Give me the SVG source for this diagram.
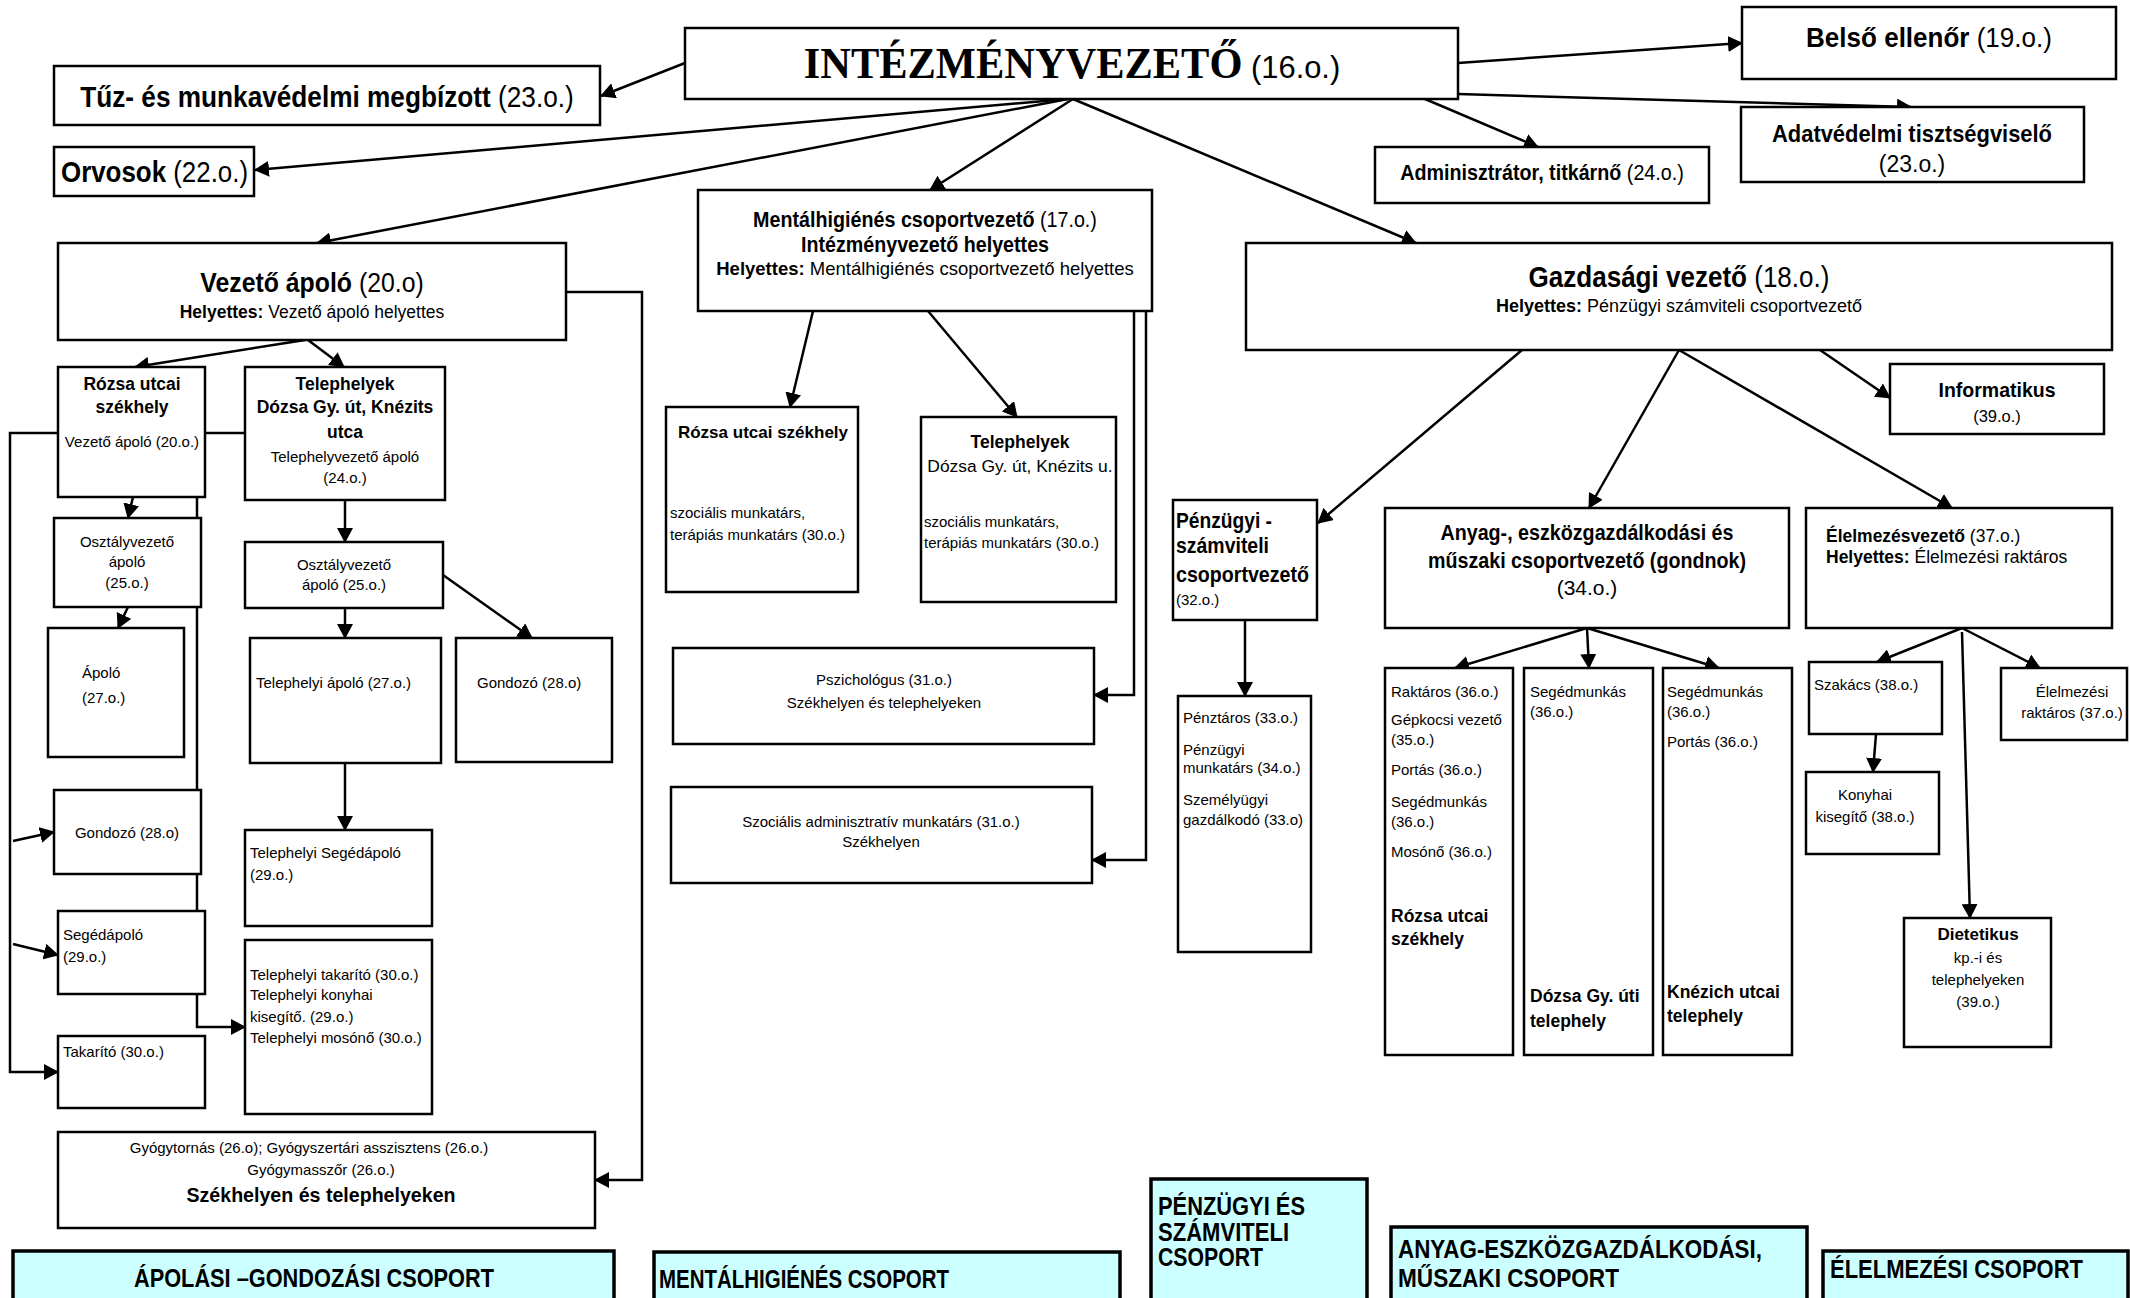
<svg xmlns="http://www.w3.org/2000/svg" width="2130" height="1298" viewBox="0 0 2130 1298">
<defs>
<marker id="ah" markerUnits="userSpaceOnUse" markerWidth="16" markerHeight="16" refX="14" refY="8" orient="auto"><path d="M0,0 L15,8 L0,16 z" fill="#000"/></marker>
<style>
.box{fill:#fff;stroke:#000;stroke-width:2.5}
.cy{fill:#ccffff;stroke:#000;stroke-width:3.5}
.ln{fill:none;stroke:#000;stroke-width:2.5}
.ar{marker-end:url(#ah)}
text{font-family:"Liberation Sans",Arial,sans-serif;fill:#000}
.b{font-weight:bold}
.s{font-size:15px}
.sb{font-size:17.5px;font-weight:bold}
.m{text-anchor:middle}
.serif{font-family:"Liberation Serif","Times New Roman",serif;font-weight:bold}
</style>
</defs>
<rect width="2130" height="1298" fill="#fff"/>

<g id="connectors">
<path class="ln ar" d="M685,63 L601,96"/>
<path class="ln ar" d="M1068,99 L255,170"/>
<path class="ln ar" d="M1068,99 L317,243"/>
<path class="ln ar" d="M1073,99 L930,190"/>
<path class="ln ar" d="M1073,99 L1416,243"/>
<path class="ln ar" d="M1425,99 L1538,147"/>
<path class="ln ar" d="M1458,63 L1742,43"/>
<path class="ln ar" d="M1458,94 L1911,107"/>
<path class="ln ar" d="M305,340 L135,367"/>
<path class="ln ar" d="M308,340 L344,367"/>
<path class="ln ar" d="M566,292 L642,292 L642,1180 L595,1180"/>
<path class="ln ar" d="M245,433 L10,433 L10,1072 L58,1072"/>
<path class="ln ar" d="M13,841 L54,832"/>
<path class="ln ar" d="M13,944 L58,955"/>
<path class="ln ar" d="M133,497 L128,518"/>
<path class="ln ar" d="M128,607 L118,628"/>
<path class="ln ar" d="M197,497 L197,1027 L245,1027"/>
<path class="ln ar" d="M345,500 L345,542"/>
<path class="ln ar" d="M345,608 L345,638"/>
<path class="ln ar" d="M443,575 L532,638"/>
<path class="ln ar" d="M345,763 L345,830"/>
<path class="ln ar" d="M813,311 L790,407"/>
<path class="ln ar" d="M928,311 L1017,417"/>
<path class="ln ar" d="M1134,311 L1134,695 L1094,695"/>
<path class="ln ar" d="M1146,311 L1146,860 L1092,860"/>
<path class="ln ar" d="M1522,350 L1318,523"/>
<path class="ln ar" d="M1679,350 L1589,508"/>
<path class="ln ar" d="M1679,350 L1952,508"/>
<path class="ln ar" d="M1820,350 L1890,398"/>
<path class="ln ar" d="M1245,620 L1245,696"/>
<path class="ln ar" d="M1587,628 L1455,668"/>
<path class="ln ar" d="M1587,628 L1589,668"/>
<path class="ln ar" d="M1587,628 L1719,668"/>
<path class="ln ar" d="M1962,628 L1877,662"/>
<path class="ln ar" d="M1962,628 L2040,668"/>
<path class="ln ar" d="M1962,632 L1970,918"/>
<path class="ln ar" d="M1876,734 L1873,772"/>
</g>

<g id="n-intezmeny"><rect class="box" x="685" y="28" width="773" height="71"/>
<text transform="translate(1072,78) scale(0.965,1)" class="m"><tspan class="serif" font-size="44">INTÉZMÉNYVEZETŐ</tspan><tspan font-size="32"> (16.o.)</tspan></text></g>

<g id="n-tuz"><rect class="box" x="54" y="66" width="546" height="59"/>
<text transform="translate(327,107) scale(0.904,1)" class="m" font-size="29"><tspan class="b">Tűz- és munkavédelmi megbízott</tspan> (23.o.)</text></g>

<g id="n-orvosok"><rect class="box" x="54" y="147" width="200" height="49"/>
<text transform="translate(61,182) scale(0.893,1)" font-size="29"><tspan class="b">Orvosok</tspan> (22.o.)</text></g>

<g id="n-belso"><rect class="box" x="1742" y="7" width="374" height="72"/>
<text transform="translate(1929,47) scale(0.93,1)" class="m" font-size="28"><tspan class="b">Belső ellenőr</tspan> (19.o.)</text></g>

<g id="n-adatvedelmi"><rect class="box" x="1741" y="107" width="343" height="75"/>
<text x="1912" y="142" class="m b" font-size="24" textLength="280" lengthAdjust="spacingAndGlyphs">Adatvédelmi tisztségviselő</text>
<text x="1912" y="172" class="m" font-size="23">(23.o.)</text></g>

<g id="n-admin"><rect class="box" x="1375" y="147" width="334" height="56"/>
<text transform="translate(1542,180) scale(0.896,1)" class="m" font-size="22"><tspan class="b">Adminisztrátor, titkárnő</tspan> (24.o.)</text></g>

<g id="n-gazdasagi"><rect class="box" x="1246" y="243" width="866" height="107"/>
<text transform="translate(1679,287) scale(0.898,1)" class="m" font-size="29"><tspan class="b">Gazdasági vezető</tspan> (18.o.)</text>
<text x="1679" y="312" class="m" font-size="18"><tspan class="b">Helyettes:</tspan> Pénzügyi számviteli csoportvezető</text></g>

<g id="n-mental"><rect class="box" x="698" y="190" width="454" height="121"/>
<text transform="translate(925,227) scale(0.896,1)" class="m" font-size="22"><tspan class="b">Mentálhigiénés csoportvezető</tspan> (17.o.)</text>
<text x="925" y="252" class="m b" font-size="22" textLength="248" lengthAdjust="spacingAndGlyphs">Intézményvezető helyettes</text>
<text x="925" y="275" class="m" font-size="18.5"><tspan class="b">Helyettes:</tspan> Mentálhigiénés csoportvezető helyettes</text></g>

<g id="n-vezeto"><rect class="box" x="58" y="243" width="508" height="97"/>
<text transform="translate(312,292) scale(0.887,1)" class="m" font-size="28"><tspan class="b">Vezető ápoló</tspan> (20.o)</text>
<text x="312" y="318" class="m" font-size="17.5"><tspan class="b">Helyettes:</tspan> Vezető ápoló helyettes</text></g>

<g id="n-rozsa1"><rect class="box" x="58" y="367" width="147" height="130"/>
<text x="132" y="390" class="m sb">Rózsa utcai</text>
<text x="132" y="413" class="m sb">székhely</text>
<text x="132" y="447" class="m s">Vezető ápoló (20.o.)</text></g>

<g id="n-teleph1"><rect class="box" x="245" y="367" width="200" height="133"/>
<text x="345" y="390" class="m sb">Telephelyek</text>
<text x="345" y="413" class="m sb">Dózsa Gy. út, Knézits</text>
<text x="345" y="438" class="m sb">utca</text>
<text x="345" y="462" class="m s">Telephelyvezető ápoló</text>
<text x="345" y="483" class="m s">(24.o.)</text></g>

<g id="n-osztaly1"><rect class="box" x="54" y="518" width="147" height="89"/>
<text x="127" y="547" class="m s">Osztályvezető</text>
<text x="127" y="567" class="m s">ápoló</text>
<text x="127" y="588" class="m s">(25.o.)</text></g>

<g id="n-apolo"><rect class="box" x="48" y="628" width="136" height="129"/>
<text x="82" y="678" class="s">Ápoló</text>
<text x="82" y="703" class="s">(27.o.)</text></g>

<g id="n-gondozo1"><rect class="box" x="54" y="790" width="147" height="84"/>
<text x="127" y="838" class="m s">Gondozó (28.o)</text></g>

<g id="n-segedapolo"><rect class="box" x="58" y="911" width="147" height="83"/>
<text x="63" y="940" class="s">Segédápoló</text>
<text x="63" y="962" class="s">(29.o.)</text></g>

<g id="n-takarito"><rect class="box" x="58" y="1036" width="147" height="72"/>
<text x="63" y="1057" class="s">Takarító (30.o.)</text></g>

<g id="n-osztaly2"><rect class="box" x="245" y="542" width="198" height="66"/>
<text x="344" y="570" class="m s">Osztályvezető</text>
<text x="344" y="590" class="m s">ápoló (25.o.)</text></g>

<g id="n-teleph-apolo"><rect class="box" x="250" y="638" width="191" height="125"/>
<text x="256" y="688" class="s">Telephelyi ápoló (27.o.)</text></g>

<g id="n-gondozo2"><rect class="box" x="456" y="638" width="156" height="124"/>
<text x="477" y="688" class="s">Gondozó (28.o)</text></g>

<g id="n-teleph-seged"><rect class="box" x="245" y="830" width="187" height="96"/>
<text x="250" y="858" class="s">Telephelyi Segédápoló</text>
<text x="250" y="880" class="s">(29.o.)</text></g>

<g id="n-teleph-takarito"><rect class="box" x="245" y="940" width="187" height="174"/>
<text x="250" y="980" class="s">Telephelyi takarító (30.o.)</text>
<text x="250" y="1000" class="s">Telephelyi konyhai</text>
<text x="250" y="1022" class="s">kisegítő. (29.o.)</text>
<text x="250" y="1043" class="s">Telephelyi mosónő (30.o.)</text></g>

<g id="n-gyogy"><rect class="box" x="58" y="1132" width="537" height="96"/>
<text x="309" y="1153" class="m s">Gyógytornás (26.o); Gyógyszertári asszisztens (26.o.)</text>
<text x="321" y="1175" class="m s">Gyógymasszőr (26.o.)</text>
<text x="321" y="1202" class="m b" font-size="21" textLength="269" lengthAdjust="spacingAndGlyphs">Székhelyen és telephelyeken</text></g>

<g id="n-rozsa2"><rect class="box" x="666" y="407" width="192" height="185"/>
<text x="763" y="438" class="m b" font-size="17">Rózsa utcai székhely</text>
<text x="670" y="518" class="s">szociális munkatárs,</text>
<text x="670" y="540" class="s">terápiás munkatárs (30.o.)</text></g>

<g id="n-teleph2"><rect class="box" x="921" y="417" width="195" height="185"/>
<text x="1020" y="448" class="m sb">Telephelyek</text>
<text x="1020" y="472" class="m" font-size="17.4">Dózsa Gy. út, Knézits u.</text>
<text x="924" y="527" class="s">szociális munkatárs,</text>
<text x="924" y="548" class="s">terápiás munkatárs (30.o.)</text></g>

<g id="n-pszich"><rect class="box" x="673" y="648" width="421" height="96"/>
<text x="884" y="685" class="m s">Pszichológus (31.o.)</text>
<text x="884" y="708" class="m s">Székhelyen és telephelyeken</text></g>

<g id="n-szocadm"><rect class="box" x="671" y="787" width="421" height="96"/>
<text x="881" y="827" class="m s">Szociális adminisztratív munkatárs (31.o.)</text>
<text x="881" y="847" class="m s">Székhelyen</text></g>

<g id="n-penzugyi"><rect class="box" x="1173" y="500" width="144" height="120"/>
<text x="1176" y="528" class="b" font-size="22" textLength="96" lengthAdjust="spacingAndGlyphs">Pénzügyi -</text>
<text x="1176" y="553" class="b" font-size="22" textLength="93" lengthAdjust="spacingAndGlyphs">számviteli</text>
<text x="1176" y="582" class="b" font-size="22" textLength="133" lengthAdjust="spacingAndGlyphs">csoportvezető</text>
<text x="1176" y="605" class="s">(32.o.)</text></g>

<g id="n-penztaros"><rect class="box" x="1178" y="696" width="133" height="256"/>
<text x="1183" y="723" class="s">Pénztáros (33.o.)</text>
<text x="1183" y="755" class="s">Pénzügyi</text>
<text x="1183" y="773" class="s">munkatárs (34.o.)</text>
<text x="1183" y="805" class="s">Személyügyi</text>
<text x="1183" y="825" class="s">gazdálkodó (33.o)</text></g>

<g id="n-anyag"><rect class="box" x="1385" y="508" width="404" height="120"/>
<text x="1587" y="540" class="m b" font-size="22" textLength="293" lengthAdjust="spacingAndGlyphs">Anyag-, eszközgazdálkodási és</text>
<text x="1587" y="568" class="m b" font-size="22" textLength="318" lengthAdjust="spacingAndGlyphs">műszaki csoportvezető (gondnok)</text>
<text x="1587" y="595" class="m" font-size="21">(34.o.)</text></g>

<g id="n-raktaros"><rect class="box" x="1385" y="668" width="128" height="387"/>
<text x="1391" y="697" class="s">Raktáros (36.o.)</text>
<text x="1391" y="725" class="s">Gépkocsi vezető</text>
<text x="1391" y="745" class="s">(35.o.)</text>
<text x="1391" y="775" class="s">Portás (36.o.)</text>
<text x="1391" y="807" class="s">Segédmunkás</text>
<text x="1391" y="827" class="s">(36.o.)</text>
<text x="1391" y="857" class="s">Mosónő (36.o.)</text>
<text x="1391" y="922" class="sb">Rózsa utcai</text>
<text x="1391" y="945" class="sb">székhely</text></g>

<g id="n-seged1"><rect class="box" x="1524" y="668" width="129" height="387"/>
<text x="1530" y="697" class="s">Segédmunkás</text>
<text x="1530" y="717" class="s">(36.o.)</text>
<text x="1530" y="1002" class="sb">Dózsa Gy. úti</text>
<text x="1530" y="1027" class="sb">telephely</text></g>

<g id="n-seged2"><rect class="box" x="1663" y="668" width="129" height="387"/>
<text x="1667" y="697" class="s">Segédmunkás</text>
<text x="1667" y="717" class="s">(36.o.)</text>
<text x="1667" y="747" class="s">Portás (36.o.)</text>
<text x="1667" y="998" class="sb">Knézich utcai</text>
<text x="1667" y="1022" class="sb">telephely</text></g>

<g id="n-informatikus"><rect class="box" x="1890" y="364" width="214" height="70"/>
<text x="1997" y="397" class="m b" font-size="19.5">Informatikus</text>
<text x="1997" y="422" class="m" font-size="16.5">(39.o.)</text></g>

<g id="n-elelmezes"><rect class="box" x="1806" y="508" width="306" height="120"/>
<text transform="translate(1826,542) scale(0.921,1)" font-size="19"><tspan class="b">Élelmezésvezető</tspan> (37.o.)</text>
<text x="1826" y="563" font-size="17.5"><tspan class="b">Helyettes:</tspan> Élelmezési raktáros</text></g>

<g id="n-szakacs"><rect class="box" x="1809" y="662" width="133" height="72"/>
<text x="1814" y="690" class="s">Szakács (38.o.)</text></g>

<g id="n-elel-raktaros"><rect class="box" x="2001" y="668" width="126" height="72"/>
<text x="2072" y="697" class="m s">Élelmezési</text>
<text x="2072" y="718" class="m s">raktáros (37.o.)</text></g>

<g id="n-konyhai"><rect class="box" x="1806" y="772" width="133" height="82"/>
<text x="1865" y="800" class="m s">Konyhai</text>
<text x="1865" y="822" class="m s">kisegítő (38.o.)</text></g>

<g id="n-dietetikus"><rect class="box" x="1904" y="918" width="147" height="129"/>
<text x="1978" y="940" class="m b" font-size="17">Dietetikus</text>
<text x="1978" y="963" class="m s">kp.-i és</text>
<text x="1978" y="985" class="m s">telephelyeken</text>
<text x="1978" y="1007" class="m s">(39.o.)</text></g>

<g id="g-apolasi"><rect class="cy" x="13" y="1251" width="601" height="70"/>
<text x="314" y="1287" class="m b" font-size="25" textLength="360" lengthAdjust="spacingAndGlyphs">ÁPOLÁSI –GONDOZÁSI CSOPORT</text></g>

<g id="g-mental"><rect class="cy" x="654" y="1252" width="466" height="70"/>
<text x="659" y="1288" class="b" font-size="25" textLength="290" lengthAdjust="spacingAndGlyphs">MENTÁLHIGIÉNÉS CSOPORT</text></g>

<g id="g-penzugyi"><rect class="cy" x="1151" y="1179" width="216" height="140"/>
<text x="1158" y="1215" class="b" font-size="25" textLength="147" lengthAdjust="spacingAndGlyphs">PÉNZÜGYI ÉS</text>
<text x="1158" y="1241" class="b" font-size="25" textLength="131" lengthAdjust="spacingAndGlyphs">SZÁMVITELI</text>
<text x="1158" y="1266" class="b" font-size="25" textLength="105" lengthAdjust="spacingAndGlyphs">CSOPORT</text></g>

<g id="g-anyag"><rect class="cy" x="1391" y="1227" width="416" height="90"/>
<text x="1398" y="1258" class="b" font-size="25" textLength="364" lengthAdjust="spacingAndGlyphs">ANYAG-ESZKÖZGAZDÁLKODÁSI,</text>
<text x="1398" y="1287" class="b" font-size="25" textLength="221" lengthAdjust="spacingAndGlyphs">MŰSZAKI CSOPORT</text></g>

<g id="g-elelmezes"><rect class="cy" x="1823" y="1251" width="305" height="70"/>
<text x="1830" y="1278" class="b" font-size="25" textLength="253" lengthAdjust="spacingAndGlyphs">ÉLELMEZÉSI CSOPORT</text></g>
</svg>
